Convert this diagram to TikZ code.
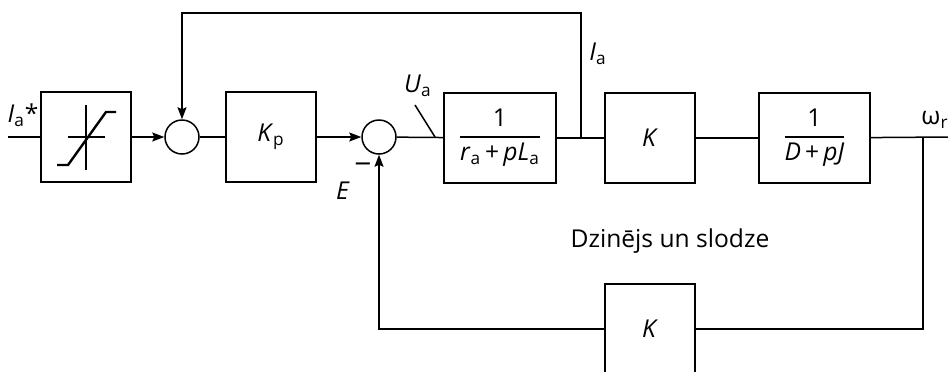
\documentclass[tikz,border=0pt]{standalone}
\usepackage{amsmath}
\usepackage{fontspec}
\setmainfont{Open Sans}
\usetikzlibrary{arrows.meta}

\begin{document}
\begin{tikzpicture}[x=0.5pt, y=-0.5pt, line width=0.75pt,
    every node/.style={font=\fontsize{12.3}{14}\selectfont},
    blok/.style={draw, minimum width=45pt, minimum height=45pt, inner sep=0pt},
    summ/.style={draw, circle, minimum size=17pt, inner sep=0pt},
    >={Stealth[length=6pt,width=4.5pt,inset=1pt]}]
  \useasboundingbox (0,0) rectangle (948,371);
  % blocks and summing points
  \node[blok] (sat) at (86,137) {};
  \node[summ] (s1) at (182,137) {};
  \node[blok] (kp) at (271,137) {\textit{K}\textsubscript{p}};
  \node[summ] (s2) at (379,137) {};
  \node[blok, minimum width=56pt] (arm) at (500,138)
    {$\genfrac{}{}{0.9pt}{0}{\text{1}}{\text{\textit{r}\textsubscript{a}\,+\,\textit{pL}\textsubscript{a}}}$};
  \node[blok] (km) at (650,138) {\textit{K}};
  \node[blok, minimum width=55.5pt] (mech) at (814.5,138)
    {$\genfrac{}{}{0.9pt}{0}{\text{1}}{\text{\textit{D}\,+\,\textit{pJ}}}$};
  \node[blok] (kfb) at (650,329) {\textit{K}};
  \coordinate (in) at (8,137);
  \coordinate (ia) at (581,137);
  \coordinate (om) at (923,137);
  \coordinate (out) at (948,137);
  \coordinate (ua) at (435,137);
  % saturation characteristic
  \draw[line width=1.2pt] (86,105) -- (86,170) (68,137) -- (105,137);
  \draw[line width=1.2pt] (57,165) -- (68,165) -- (106,112) -- (116,112);
  % signal lines
  \draw (in) -- (sat);
  \draw[->] (sat) -- (s1);
  \draw (s1) -- (kp);
  \draw[->] (kp) -- (s2);
  \draw (s2) -- (arm);
  \draw (arm) -- (km);
  \draw (km) -- (mech);
  \draw (mech) -- (out);
  \draw[->] (ia) -- ++(0,-124) -| (s1);
  \draw (om) |- (kfb);
  \draw[->] (kfb) -| (s2);
  \draw (ua) -- ++(-20,-32);
  % labels
  \node (lin) at (23,115) {\textit{I}\textsubscript{a}*};
  \node (lua) at (418,86) {\textit{U}\textsubscript{a}};
  \node (lia) at (598,54) {\textit{I}\textsubscript{a}};
  \node (lom) at (935,120) {ω\textsubscript{r}};
  \node (lmin) at (363,169) {\fontsize{15}{15}\selectfont −};
  \node (le) at (343,191) {\textit{E}};
  \node (ltit) at (670,241) {Dzinējs un slodze};
\end{tikzpicture}
\end{document}
